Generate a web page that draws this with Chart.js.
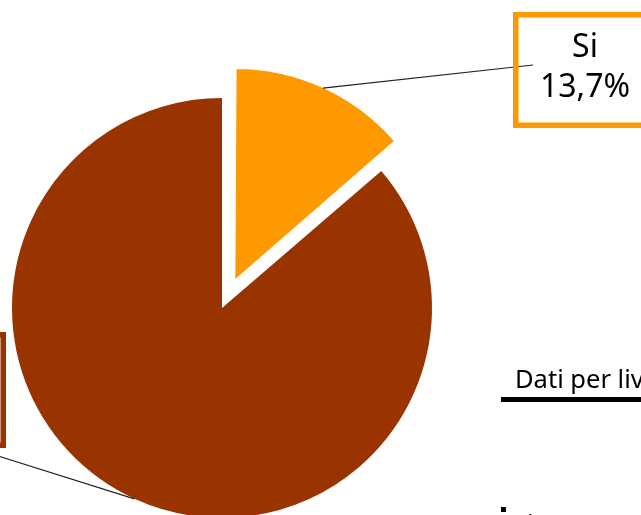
<!DOCTYPE html>
<html lang="it">
<head>
    <meta charset="UTF-8">
    <title>Dati per livello</title>
    <script src="https://cdn.jsdelivr.net/npm/chart.js"></script>
    <style>
        html, body { margin: 0; padding: 0; background: #fff; }
        body { width: 641px; height: 515px; overflow: hidden; position: relative; font-family: "Noto Sans", "Open Sans", sans-serif; }
        .pie-wrap { position: absolute; left: -60px; top: 0; width: 760px; height: 600px; }
        .legend-title { position: absolute; left: 515px; top: 365px; font-size: 25.5px; line-height: 26px; white-space: nowrap; color: #000; }
        .legend-rule { position: absolute; left: 501px; top: 397px; width: 160px; height: 5px; background: #000; }
        .legend-item { position: absolute; left: 501px; top: 507px; white-space: nowrap; font-size: 25.5px; line-height: 26px; }
        .legend-item .swatch { position: absolute; left: 0; top: 0; width: 5px; height: 5px; background: #000; }
        .legend-item .txt { position: absolute; left: 12px; top: 3px; }
    </style>
</head>
<body>
    <div class="pie-wrap"><canvas id="pieChart"></canvas></div>
    <div class="legend-title">Dati per livello</div>
    <div class="legend-rule"></div>
    <div class="legend-item"><span class="swatch"></span><span class="txt">Si</span></div>
    <script>
    // data
    const categories = ['Si', 'No'];
    const values = [13.7, 86.3];
    const sliceColors = ['#ff9900', '#993300'];
    const sliceOffsets = [128, 0];   // chart.js draws offset/4

    // callout boxes (page coords) - the wrapper sits 60px left of the page
    const shiftX = 60;
    const callouts = [
        { box: [513, 12, 657, 128], lineEnd: [533, 65], textX: 585, lines: [57, 97] },
        { box: [-138, 332, 6, 448], lineEnd: [-40, 444], textX: -66, lines: [377, 417] }
    ];

    function fmt(v) { return v.toFixed(1).replace('.', ',') + '%'; }

    // keep exploded slice same radius as the others
    const radiusFix = {
        id: 'radiusFix',
        afterDatasetsUpdate(chart) {
            chart.getDatasetMeta(0).data.forEach(arc => {
                const off = (arc.options.offset || 0) / 4;
                if (!off) return;
                const circ = arc.endAngle - arc.startAngle;
                arc.outerRadius -= off * (1 - Math.sin(Math.min(Math.PI, circ)));
            });
        }
    };

    const calloutPlugin = {
        id: 'callouts',
        afterDatasetsDraw(chart) {
            const ctx = chart.ctx;
            const meta = chart.getDatasetMeta(0);
            const R = Math.max(...meta.data.map(a => a.outerRadius));
            meta.data.forEach((arc, i) => {
                const c = callouts[i];
                const mid = (arc.startAngle + arc.endAngle) / 2;
                const off = (arc.options.offset || 0) / 4;
                const ax = arc.x + Math.cos(mid) * (off + R);
                const ay = arc.y + Math.sin(mid) * (off + R);
                ctx.save();
                ctx.strokeStyle = '#222';
                ctx.lineWidth = 1.2;
                ctx.beginPath();
                ctx.moveTo(ax, ay);
                ctx.lineTo(c.lineEnd[0] + shiftX, c.lineEnd[1]);
                ctx.stroke();
                const bw = 5.5;
                ctx.strokeStyle = sliceColors[i];
                ctx.lineWidth = bw;
                ctx.strokeRect(c.box[0] + shiftX + bw / 2, c.box[1] + bw / 2,
                    c.box[2] - c.box[0] - bw, c.box[3] - c.box[1] - bw);
                ctx.fillStyle = '#000';
                ctx.font = '32px "Noto Sans", "Open Sans", sans-serif';
                ctx.textAlign = 'center';
                ctx.textBaseline = 'alphabetic';
                ctx.fillText(categories[i], c.textX + shiftX, c.lines[0]);
                ctx.fillText(fmt(values[i]), c.textX + shiftX, c.lines[1]);
                ctx.restore();
            });
        }
    };

    new Chart(document.getElementById('pieChart').getContext('2d'), {
        type: 'pie',
        data: {
            labels: categories,
            datasets: [{
                data: values,
                backgroundColor: sliceColors,
                borderWidth: 0,
                offset: sliceOffsets,
                hoverOffset: 0
            }]
        },
        options: {
            responsive: true,
            maintainAspectRatio: false,
            animation: false,
            events: [],
            layout: { padding: { left: 8, top: 34, right: 204, bottom: 18 } },
            plugins: { legend: { display: false }, tooltip: { enabled: false } }
        },
        plugins: [radiusFix, calloutPlugin]
    });
    </script>
</body>
</html>
